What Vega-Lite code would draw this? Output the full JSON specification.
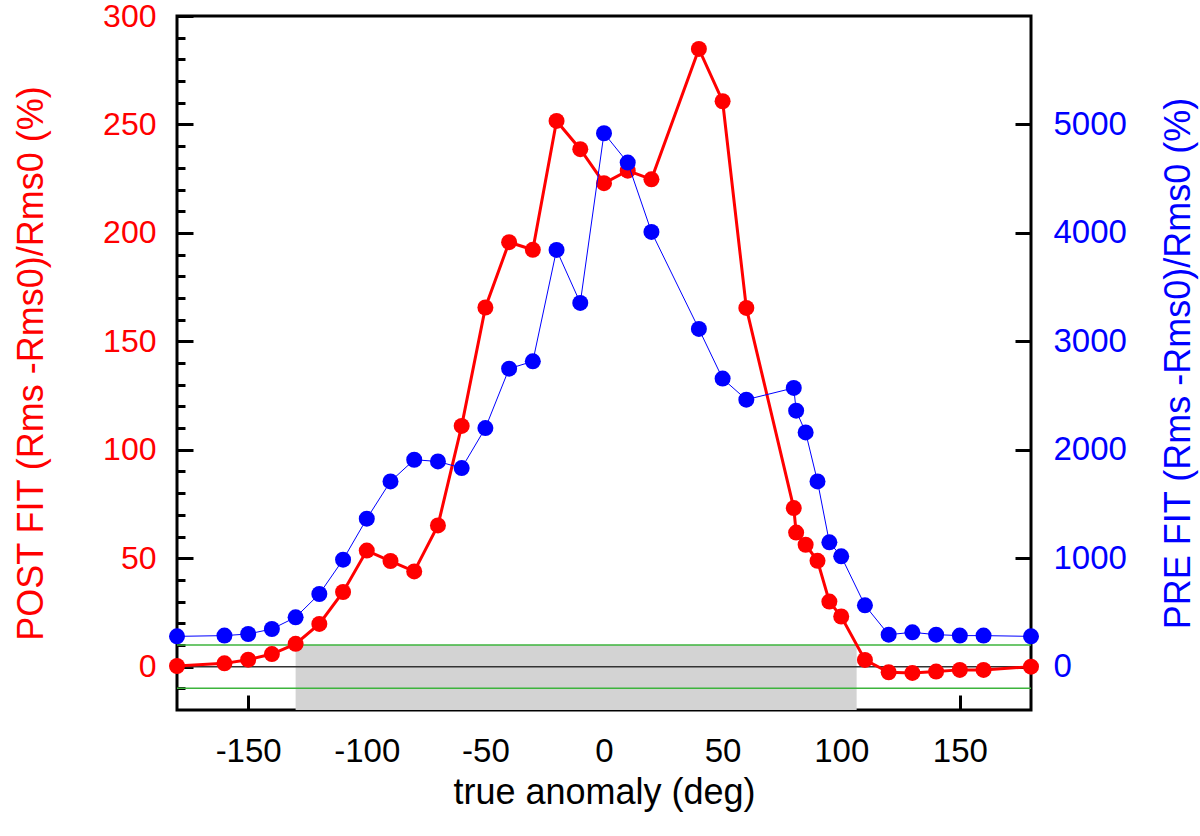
{
  "$schema": "https://vega.github.io/schema/vega-lite/v6.json",
  "width": 854,
  "height": 694,
  "autosize": {"type": "none"},
  "padding": {"left": 177, "top": 16, "right": 169, "bottom": 126},
  "background": "white",
  "config": {
    "view": {"stroke": "black", "strokeWidth": 3},
    "font": "Liberation Sans",
    "axis": {"grid": false, "domain": false, "labelFont": "Liberation Sans", "titleFont": "Liberation Sans", "titleFontWeight": "normal", "labelFontSize": 33, "titleFontSize": 36, "labelOverlap": false, "labelFlush": false}
  },
  "datasets": {
    "post": [
      {"anomaly": -180, "post": 0.3}, {"anomaly": -160, "post": 1.5}, {"anomaly": -150, "post": 3.2},
      {"anomaly": -140, "post": 5.8}, {"anomaly": -130, "post": 10.5}, {"anomaly": -120, "post": 19.7},
      {"anomaly": -110, "post": 34.4}, {"anomaly": -100, "post": 53.5}, {"anomaly": -90, "post": 48.7},
      {"anomaly": -80, "post": 43.9}, {"anomaly": -70, "post": 65.1}, {"anomaly": -60, "post": 111},
      {"anomaly": -50, "post": 165.6}, {"anomaly": -40, "post": 195.7}, {"anomaly": -30, "post": 192.2},
      {"anomaly": -20, "post": 251.6}, {"anomaly": -10, "post": 238.6}, {"anomaly": 0, "post": 222.9},
      {"anomaly": 10, "post": 228.7}, {"anomaly": 20, "post": 224.7}, {"anomaly": 40, "post": 284.8},
      {"anomaly": 50, "post": 260.7}, {"anomaly": 60, "post": 165.4}, {"anomaly": 80, "post": 73.1},
      {"anomaly": 81, "post": 61.8}, {"anomaly": 85, "post": 56.2}, {"anomaly": 90, "post": 48.8},
      {"anomaly": 95, "post": 30.0}, {"anomaly": 100, "post": 23.1}, {"anomaly": 110, "post": 3.1},
      {"anomaly": 120, "post": -2.6}, {"anomaly": 130, "post": -2.9}, {"anomaly": 140, "post": -2.3},
      {"anomaly": 150, "post": -1.5}, {"anomaly": 160, "post": -1.5}, {"anomaly": 180, "post": 0}
    ],
    "pre": [
      {"anomaly": -180, "pre": 279}, {"anomaly": -160, "pre": 286}, {"anomaly": -150, "pre": 301},
      {"anomaly": -140, "pre": 347}, {"anomaly": -130, "pre": 455}, {"anomaly": -120, "pre": 670},
      {"anomaly": -110, "pre": 986}, {"anomaly": -100, "pre": 1364}, {"anomaly": -90, "pre": 1708},
      {"anomaly": -80, "pre": 1908}, {"anomaly": -70, "pre": 1892}, {"anomaly": -60, "pre": 1831},
      {"anomaly": -50, "pre": 2200}, {"anomaly": -40, "pre": 2748}, {"anomaly": -30, "pre": 2815},
      {"anomaly": -20, "pre": 3843}, {"anomaly": -10, "pre": 3354}, {"anomaly": 0, "pre": 4919},
      {"anomaly": 10, "pre": 4648}, {"anomaly": 20, "pre": 4009}, {"anomaly": 40, "pre": 3114},
      {"anomaly": 50, "pre": 2656}, {"anomaly": 60, "pre": 2462}, {"anomaly": 80, "pre": 2570},
      {"anomaly": 81, "pre": 2360}, {"anomaly": 85, "pre": 2160}, {"anomaly": 90, "pre": 1708},
      {"anomaly": 95, "pre": 1146}, {"anomaly": 100, "pre": 1017}, {"anomaly": 110, "pre": 565},
      {"anomaly": 120, "pre": 295}, {"anomaly": 130, "pre": 316}, {"anomaly": 140, "pre": 295},
      {"anomaly": 150, "pre": 286}, {"anomaly": 160, "pre": 286}, {"anomaly": 180, "pre": 279}
    ],
    "band": [{"from": -130, "to": 106.5, "lo": -20, "hi": 10}],
    "levels": [{"level": 10, "kind": "limit"}, {"level": -10, "kind": "limit"}, {"level": 0, "kind": "zero"}]
  },
  "layer": [
    {
      "data": {"name": "band"},
      "mark": {"type": "rect", "fill": "#d3d3d3"},
      "encoding": {
        "x": {"field": "from", "type": "quantitative", "scale": {"domain": [-180, 180], "nice": false, "zero": false},
          "axis": {"orient": "bottom", "values": [-150, -100, -50, 0, 50, 100, 150], "labelExpr": "'' + datum.value", "labelOverlap": false, "tickSize": -15, "tickWidth": 3, "tickColor": "black", "labelColor": "black", "labelPadding": 40, "title": "true anomaly (deg)", "titleColor": "black", "titlePadding": 7}},
        "x2": {"field": "to"},
        "y": {"field": "lo", "type": "quantitative", "scale": {"domain": [-20, 300], "nice": false, "zero": false},
          "axis": {"orient": "left", "values": [-10, 10, 20, 30, 40, 60, 70, 80, 90, 110, 120, 130, 140, 160, 170, 180, 190, 210, 220, 230, 240, 260, 270, 280, 290],
            "labels": false, "tickSize": -8, "tickWidth": 3, "tickColor": "black", "title": null}},
        "y2": {"field": "hi"}
      }
    },
    {
      "layer": [
        {
          "data": {"name": "levels"},
          "mark": {"type": "rule", "strokeWidth": 1.5},
          "encoding": {
            "y": {"field": "level", "type": "quantitative", "scale": {"domain": [-20, 300], "nice": false, "zero": false},
              "axis": {"orient": "left", "values": [0, 50, 100, 150, 200, 250, 300],
                "labelExpr": "'' + datum.value", "labelOverlap": false, "labelFontSize": 32,
                "tickSize": -16, "tickWidth": 3, "tickColor": "black", "labelColor": "#ff0000", "labelPadding": 37,
                "title": "POST FIT (Rms -Rms0)/Rms0 (%)", "titleColor": "#ff0000", "titlePadding": 52}},
            "color": {"field": "kind", "type": "nominal", "scale": {"domain": ["limit", "zero"], "range": ["#3cb43c", "#333333"]}, "legend": null}
          }
        },
        {
          "data": {"name": "post"},
          "mark": {"type": "line", "color": "#ff0000", "strokeWidth": 3, "point": {"filled": true, "size": 256, "color": "#ff0000", "opacity": 1}},
          "encoding": {
            "x": {"field": "anomaly", "type": "quantitative"},
            "y": {"field": "post", "type": "quantitative"}
          }
        }
      ]
    },
    {
      "data": {"name": "pre"},
      "mark": {"type": "line", "color": "#0000ff", "strokeWidth": 1, "point": {"filled": true, "size": 256, "color": "#0000ff", "opacity": 1}},
      "encoding": {
        "x": {"field": "anomaly", "type": "quantitative"},
        "y": {"field": "pre", "type": "quantitative", "scale": {"domain": [-400, 6000], "nice": false, "zero": false},
          "axis": {"orient": "right", "values": [0, 1000, 2000, 3000, 4000, 5000], "labelExpr": "'' + datum.value", "labelOverlap": false, "tickSize": -16, "tickWidth": 3, "tickColor": "black", "labelColor": "#0000ff", "labelPadding": 38,
            "title": "PRE FIT (Rms -Rms0)/Rms0 (%)", "titleColor": "#0000ff", "titleAngle": 270, "titleBaseline": "top", "titlePadding": 35}}
      }
    }
  ],
  "resolve": {"scale": {"y": "independent"}}
}
